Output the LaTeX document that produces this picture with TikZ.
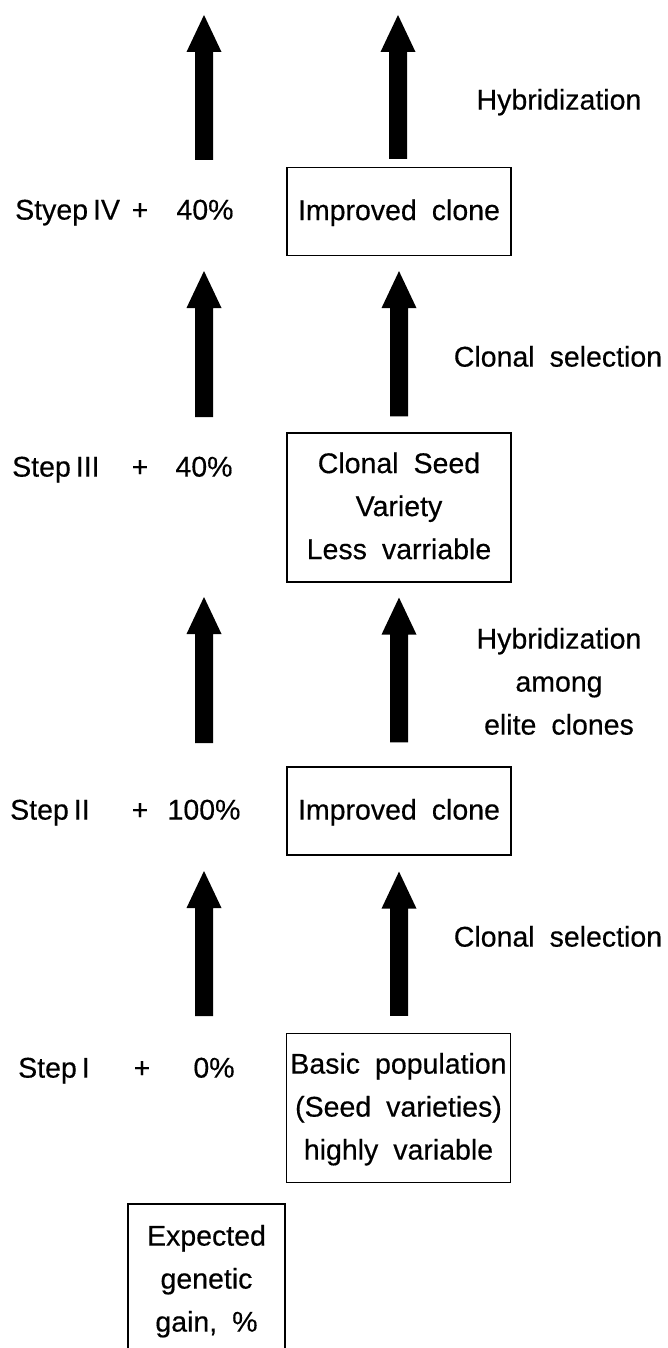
\documentclass[tikz,border=0pt]{standalone}
\usepackage{fontspec}
\setmainfont{Liberation Sans}[WordSpace=1.9, FakeBold=0.4]
\usetikzlibrary{calc}
\newcommand\mlines[1]{\begin{tabular}{@{}c@{}}#1\end{tabular}}
% filled block arrow from bottom point #1 to tip point #2
\newcommand\bigarr[2]{%
  \fill let \p1=(#1), \p2=(#2) in
    (\x2-9pt,\y1) -- (\x2-9pt,\y2-37pt) -- (\x2-17.5pt,\y2-37pt) -- (\x2,\y2)
    -- (\x2+17.5pt,\y2-37pt) -- (\x2+9pt,\y2-37pt) -- (\x2+9pt,\y1) -- cycle;}
\tikzset{
  txt/.style={inner sep=0pt, font={\fontsize{28.5}{43}\selectfont}},
  steplbl/.style={txt, anchor=west, font={\fontsize{28.5}{43}\selectfont\spaceskip=5pt plus 1pt}},
  boxnode/.style={txt, draw, line width=1.2pt, minimum width=224pt},
}
\begin{document}
\begin{tikzpicture}[x=1pt, y=-1pt]
\useasboundingbox (0,0) rectangle (667,1348);
\clip (0,0) rectangle (667,1348);

% right column boxes
\node[boxnode, minimum height=88pt]  (b1) at (399,211.5) {\mlines{Improved clone}};
\node[boxnode, minimum height=149pt] (b2) at (399,507.5) {\mlines{Clonal Seed\\Variety\\Less varriable}};
\node[boxnode, minimum height=88pt]  (b3) at (399,811) {\mlines{Improved clone}};
\node[boxnode, minimum height=149pt] (b4) at (398.5,1108) {\mlines{Basic population\\(Seed varieties)\\highly variable}};
\node[boxnode, minimum width=157pt, minimum height=152pt] (b5) at (206.5,1280) {\mlines{Expected\\genetic\\gain, \%}};

% right labels
\node[txt] (h1) at (559,101) {\mlines{Hybridization}};
\node[txt] (c1) at (558,358) {\mlines{Clonal selection}};
\node[txt] (h2) at (559,683) {\mlines{Hybridization\\among\\elite clones}};
\node[txt] (c2) at (558,938) {\mlines{Clonal selection}};

% left step labels
\node[steplbl] (s4) at (15,211) {\mlines{Styep IV}};
\node[txt] (q4) at (140,211) {\mlines{+}};
\node[txt] (p4) at (205,211) {\mlines{40\%}};
\node[steplbl] (s3) at (12,468) {\mlines{Step III}};
\node[txt] (q3) at (140,468) {\mlines{+}};
\node[txt] (p3) at (204,468) {\mlines{40\%}};
\node[steplbl] (s2) at (10,811) {\mlines{Step II}};
\node[txt] (q2) at (140,811) {\mlines{+}};
\node[txt] (p2) at (204,811) {\mlines{100\%}};
\node[steplbl] (s1) at (18,1069) {\mlines{Step I}};
\node[txt] (q1) at (142,1069) {\mlines{+}};
\node[txt] (p1) at (214,1069) {\mlines{0\%}};

% free arrow ends
\coordinate (topR) at (398,15);
\coordinate (L1b) at (204,1016); \coordinate (L1t) at (204,871);
\coordinate (L2b) at (204,743);  \coordinate (L2t) at (204,597);
\coordinate (L3b) at (204,417);  \coordinate (L3t) at (204,271);
\coordinate (L4b) at (204,160);  \coordinate (L4t) at (204,15);

% right arrows
\bigarr{[yshift=17pt]b4.north}{[yshift=-16pt]b3.south}
\bigarr{[yshift=24pt]b3.north}{[yshift=-15pt]b2.south}
\bigarr{[yshift=16pt]b2.north}{[yshift=-15pt]b1.south}
\bigarr{[yshift=8pt]b1.north}{topR}

% left arrows
\bigarr{L1b}{L1t}
\bigarr{L2b}{L2t}
\bigarr{L3b}{L3t}
\bigarr{L4b}{L4t}
\end{tikzpicture}
\end{document}
